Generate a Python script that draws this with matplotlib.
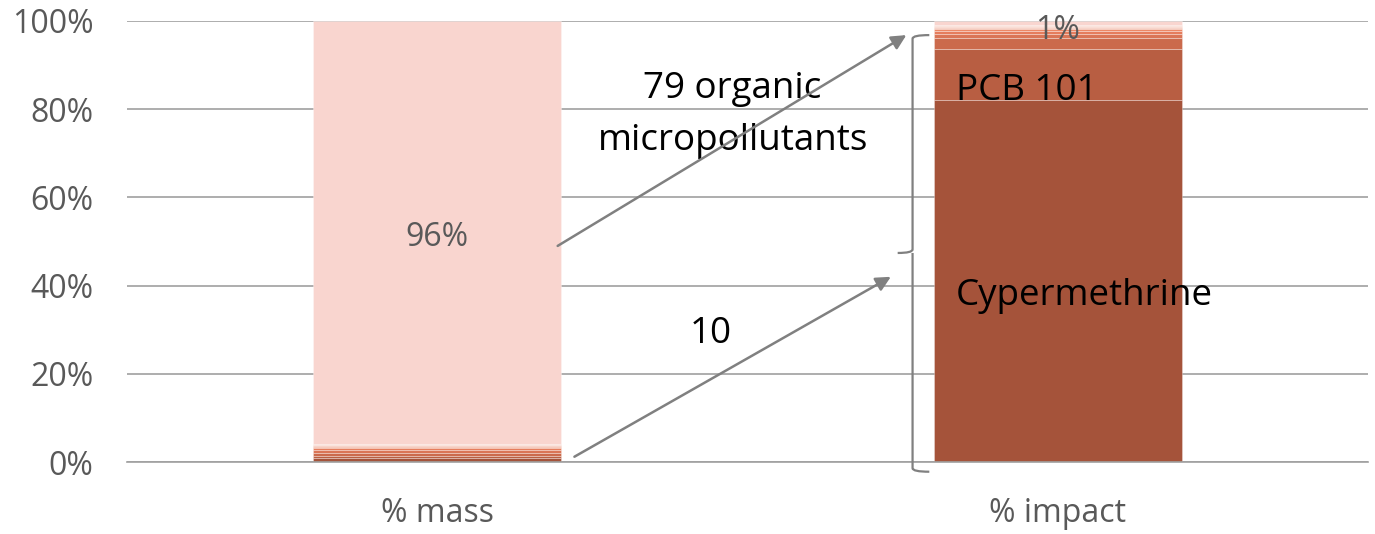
import numpy as np
import matplotlib.pyplot as plt
from matplotlib.path import Path
from matplotlib.patches import PathPatch

plt.rcParams["font.family"] = ["Open Sans", "DejaVu Sans"]

# ── Data: share of mass and share of impact per substance ───────────
categories = ["% mass", "% impact"]

# the 10 substances that carry the impact, from bottom to top
top_names = ["Cypermethrine", "PCB 101", "s3", "s4", "s5", "s6", "s7", "s8", "s9", "s10"]
top_mass = [1.0, 0.3, 0.8, 0.6, 0.4, 0.3, 0.2, 0.2, 0.1, 0.1]
top_impact = [82.1, 11.5, 2.5, 1.0, 0.6, 0.4, 0.3, 0.2, 0.2, 0.2]

# the remaining 79 organic micropollutants, lumped together
rest_mass = 96.0
rest_impact = 1.0

colors = ["#A5533A", "#B85E42", "#CB6A4C", "#DA7556", "#E57D5D",
          "#EC8866", "#EF9A80", "#F3AE98", "#F6C0AF", "#F8CBBF"]
rest_color = "#F9D5CF"

GREY = "#595959"
LINE = "#808080"

fig = plt.figure(figsize=(13.75, 5.34), dpi=100)
ax = fig.add_axes([0.0924, 0.1348, 0.9025, 0.8259])

x = np.arange(len(categories))
width = 0.40

bottom = np.zeros(2)
for m, imp, c in zip(top_mass, top_impact, colors):
    vals = np.array([m, imp]) / 100
    ax.bar(x, vals, width, bottom=bottom, color=c, edgecolor=(1, 1, 1, 0.35),
           linewidth=0.6, zorder=2)
    bottom += vals
rest = np.array([rest_mass, rest_impact]) / 100
ax.bar(x, rest, width, bottom=bottom, color=rest_color, edgecolor=(1, 1, 1, 0.35),
       linewidth=0.6, zorder=2)

# ── Axes styling ───────────────────────────────────────
ax.set_xlim(-0.5, 1.5)
ax.set_ylim(0, 1)
ax.set_yticks(np.arange(0, 1.01, 0.2))
ax.set_yticklabels([f"{int(round(v * 100))}%" for v in np.arange(0, 1.01, 0.2)])
ax.set_xticks(x)
ax.set_xticklabels(categories)
ax.tick_params(length=0, labelsize=23, labelcolor=GREY)
ax.tick_params(axis="x", pad=25)
ax.tick_params(axis="y", pad=24)
ax.yaxis.grid(True, color="#A0A0A0", linewidth=1.2, zorder=0)
for s in ["top", "right", "left"]:
    ax.spines[s].set_visible(False)
ax.spines["bottom"].set_color("#A0A0A0")
ax.spines["bottom"].set_linewidth(1.2)
ax.set_axisbelow(True)

# ── Value labels ───────────────────────────────────────
ax.text(x[0], (sum(top_mass) + rest_mass / 2) / 100 - 0.012, f"{rest_mass:.0f}%",
        ha="center", va="center", fontsize=23, color=GREY, zorder=3)
ax.text(x[1], 0.978, f"{rest_impact:.0f}%", ha="center", va="center",
        fontsize=23, color=GREY, zorder=3)
ax.text(0.836, 0.842, top_names[1], ha="left", va="center", fontsize=26.5,
        color="black", zorder=3)
ax.text(0.836, 0.376, top_names[0], ha="left", va="center", fontsize=26.5,
        color="black", zorder=3)

# ── Arrows ─────────────────────────────────────────────
arrow = dict(arrowstyle="-|>", color=LINE, lw=1.8, mutation_scale=22, shrinkA=0, shrinkB=0)
ax.annotate("", xy=(0.756, 0.968), xytext=(0.194, 0.490), arrowprops=arrow, zorder=4)
ax.annotate("", xy=(0.731, 0.42), xytext=(0.221, 0.012), arrowprops=arrow, zorder=4)
ax.text(0.476, 0.787, "79 organic\nmicropollutants", ha="center", va="center",
        fontsize=26.5, color="black", linespacing=1.6, zorder=3)
ax.text(0.440, 0.29, "10", ha="center", va="center", fontsize=26.5, color="black", zorder=3)

# ── Curly brace next to the impact bar ─────────────────
bx, tip, end = 0.766, 0.742, 0.793
ytop, ymid, ybot = 0.968, 0.474, -0.022
r = 0.008
verts = [(end, ytop), (bx, ytop), (bx, ytop - r),
         (bx, ymid + r), (bx, ymid), (tip, ymid),
         (bx, ymid), (bx, ymid - r),
         (bx, ybot + r), (bx, ybot), (end, ybot)]
codes = [Path.MOVETO, Path.CURVE3, Path.CURVE3,
         Path.LINETO, Path.CURVE3, Path.CURVE3,
         Path.MOVETO, Path.LINETO,
         Path.LINETO, Path.CURVE3, Path.CURVE3]
ax.add_patch(PathPatch(Path(verts, codes), fill=False, edgecolor=LINE, lw=1.6,
                       clip_on=False, zorder=4))

plt.savefig("out.png", dpi=100)
